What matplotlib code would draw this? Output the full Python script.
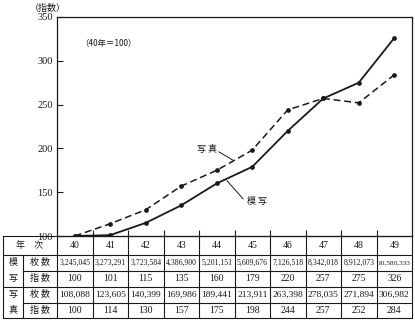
import matplotlib
matplotlib.use("Agg")
import matplotlib.pyplot as plt

# Data: yearly figures, index base year 40 = 100
years = [40, 41, 42, 43, 44, 45, 46, 47, 48, 49]
mosha_count = ["3,245,045", "3,273,291", "3,723,584", "4,386,900", "5,201,151",
               "5,609,676", "7,126,518", "8,342,018", "8,912,073", "10,580,333"]
mosha_index = [100, 101, 115, 135, 160, 179, 220, 257, 275, 326]
shashin_count = ["108,088", "123,605", "140,399", "169,986", "189,441",
                 "213,911", "263,398", "278,035", "271,894", "306,982"]
shashin_index = [100, 114, 130, 157, 175, 198, 244, 257, 252, 284]
y_ticks = [100, 150, 200, 250, 300, 350]

CJK = ["Noto Sans CJK JP", "DejaVu Sans"]
NUM = ["Liberation Serif", "DejaVu Serif"]

W, H = 415, 327
fig = plt.figure(figsize=(W / 100, H / 100), dpi=100)
fig.patch.set_facecolor("white")

def fx(px):
    return px / W

def fy(py):
    return 1 - py / H

# pixel geometry of plot and table
x_left, x_right = 57, 412
y_top, y_base = 17, 236
tab_left = 3
row_edges = [236, 254.5, 270.5, 286.5, 302.5, 318]
ink = "#1a1a1a"

# ---- line chart ----
ax = fig.add_axes([fx(x_left), fy(y_base), fx(x_right - x_left), fy(y_top) - fy(y_base)])
ax.set_xlim(years[0] - 0.5, years[-1] + 0.5)
ax.set_ylim(100, 350)
ax.plot(years, mosha_index, color=ink, lw=1.3, marker="o", ms=2.4, zorder=3)
ax.plot(years, shashin_index, color=ink, lw=1.1, ls=(0, (4.5, 2.5)), marker="o",
        ms=2.4, zorder=3)
for s in ax.spines.values():
    s.set_color(ink)
    s.set_linewidth(0.9)
ax.set_yticks(y_ticks)
ax.set_yticklabels([str(v) for v in y_ticks], fontfamily=NUM, fontsize=7.5, color=ink)
ax.tick_params(axis="y", direction="in", length=4, width=0.8, color=ink, pad=3)
ax.set_xticks([y + 0.5 for y in years[:-1]])
ax.set_xticklabels([])
ax.tick_params(axis="x", direction="in", length=4, width=0.8, color=ink)

ax.text(40.96, 320, "（40年＝100）", fontfamily=CJK, fontsize=6, color=ink,
        ha="center", va="center")

# series labels with leader lines
ax.text(43.73, 198.5, "写 真", fontfamily=CJK, fontsize=6.5, color=ink,
        ha="center", va="center")
ax.plot([44.06, 44.46], [196, 186.5], color=ink, lw=0.7)
ax.text(45.14, 139, "模 写", fontfamily=CJK, fontsize=6.5, color=ink,
        ha="center", va="center")
ax.plot([44.29, 44.74], [163, 142.5], color=ink, lw=0.7)

fig.text(fx(48), fy(8), "（指数）", fontfamily=CJK, fontsize=6.5, color=ink,
         ha="center", va="center")

# ---- data table ----
x0 = years[0] - 0.5 - (x_left - tab_left) / 35.5
xsub = years[0] - 0.5 - (x_left - 23) / 35.5
tab = fig.add_axes([fx(tab_left), fy(row_edges[-1]), fx(x_right - tab_left),
                    fy(row_edges[0]) - fy(row_edges[-1])])
tab.set_xlim(x0, years[-1] + 0.5)
tab.set_ylim(row_edges[-1], row_edges[0])
tab.axis("off")

lw = 0.8
# outer frame
tab.plot([x0, years[-1] + 0.5, years[-1] + 0.5, x0, x0],
         [row_edges[0], row_edges[0], row_edges[-1], row_edges[-1], row_edges[0]],
         color=ink, lw=lw, clip_on=False)
# horizontal rules
for i, yv in enumerate(row_edges[1:-1], start=1):
    start = xsub if i in (2, 4) else x0
    tab.plot([start, years[-1] + 0.5], [yv, yv], color=ink, lw=lw)
# vertical rules
for xv in [years[0] - 0.5] + [y + 0.5 for y in years[:-1]]:
    tab.plot([xv, xv], [row_edges[0], row_edges[-1]], color=ink, lw=lw)
tab.plot([xsub, xsub], [row_edges[1], row_edges[-1]], color=ink, lw=lw)

def mid(i):
    return (row_edges[i] + row_edges[i + 1]) / 2

cx_group = (x0 + xsub) / 2
cx_sub = (xsub + years[0] - 0.5) / 2
tab.text((x0 + years[0] - 0.5) / 2, mid(0), "年　次", fontfamily=CJK, fontsize=6.5,
         color=ink, ha="center", va="center")
for r, ch in zip(range(1, 5), ["模", "写", "写", "真"]):
    tab.text(cx_group, mid(r), ch, fontfamily=CJK, fontsize=6.5, color=ink,
             ha="center", va="center")
for r, lab in zip(range(1, 5), ["枚 数", "指 数", "枚 数", "指 数"]):
    tab.text(cx_sub, mid(r), lab, fontfamily=CJK, fontsize=6.5, color=ink,
             ha="center", va="center")

for k, yr in enumerate(years):
    tab.text(yr, mid(0), str(yr), fontfamily=NUM, fontsize=7, color=ink,
             ha="center", va="center")
    tab.text(yr, mid(1), mosha_count[k], fontfamily=NUM,
             fontsize=5.3 if len(mosha_count[k]) > 9 else 5.6, color=ink,
             ha="center", va="center")
    tab.text(yr, mid(2), str(mosha_index[k]), fontfamily=NUM, fontsize=7, color=ink,
             ha="center", va="center")
    tab.text(yr, mid(3), shashin_count[k], fontfamily=NUM, fontsize=6.8, color=ink,
             ha="center", va="center")
    tab.text(yr, mid(4), str(shashin_index[k]), fontfamily=NUM, fontsize=7, color=ink,
             ha="center", va="center")

fig.savefig("out.png", dpi=100, facecolor="white")
